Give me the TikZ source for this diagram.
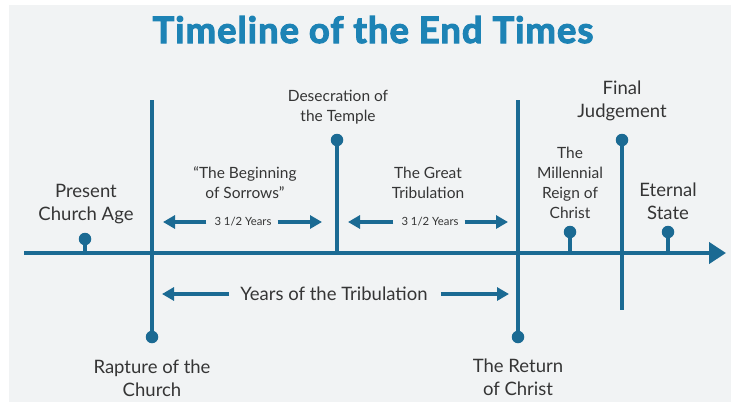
\documentclass[tikz,border=0pt]{standalone}
\usepackage{fontspec}
\setmainfont{Lato}
\newfontfamily\titlefont{Lato}[BoldFeatures={FakeBold=3}, LetterSpace=3]
\usetikzlibrary{arrows.meta}
\definecolor{bg}{HTML}{F1F3F4}
\definecolor{lineblue}{HTML}{1B6A93}
\definecolor{titleblue}{HTML}{1D83B5}
\definecolor{txt}{HTML}{353535}
\begin{document}
\begin{tikzpicture}[x=1pt,y=-1pt,
  big/.style={font=\fontsize{18.5}{23}\selectfont, text=txt, align=center, inner sep=0pt},
  mid/.style={font=\fontsize{15.5}{20}\selectfont, text=txt, align=center, inner sep=0pt},
  small/.style={font=\fontsize{11.3}{13}\selectfont, text=txt, align=center, inner sep=0pt},
  dot/.style={circle, fill=lineblue, minimum size=12.5pt, inner sep=0pt},
  bar/.style={line width=4pt, draw=lineblue},
  arr/.style={line width=4pt, draw=lineblue, -{Triangle[length=12pt,width=13pt]}},
  axisarr/.style={line width=4pt, draw=lineblue, -{Triangle[length=17pt,width=21pt]}}
]
\useasboundingbox (0,0) rectangle (735,405);
\fill[white] (0,0) rectangle (735,405);
\fill[bg] (9,5) rectangle (731,402);

% title
\node[font=\fontsize{36.3}{40}\titlefont\bfseries, text=titleblue, inner sep=0pt, anchor=base] (title) at (373,43) {Timeline of the End Times};

% axis
\coordinate (axL) at (24,253);
\coordinate (axR) at (726,253);
\draw[axisarr] (axL) -- (axR);

% dots
\node[dot] (dPresent) at (85,239) {};
\node[dot] (dRapture) at (152,337) {};
\node[dot] (dDesec) at (337,140) {};
\node[dot] (dReturn) at (518,337) {};
\node[dot] (dMill) at (570,232) {};
\node[dot] (dFinal) at (622,140) {};
\node[dot] (dEternal) at (668,232) {};

% line ends
\coordinate (v1top) at (152,100);
\coordinate (v3top) at (518,100);
\coordinate (v2bot) at (337,253);
\coordinate (v4bot) at (622,310);
\coordinate (sPresent) at (85,253);
\coordinate (sMill) at (570,253);
\coordinate (sEternal) at (668,253);

\draw[bar] (v1top) -- (dRapture);
\draw[bar] (v3top) -- (dReturn);
\draw[bar] (dDesec) -- (v2bot);
\draw[bar] (dFinal) -- (v4bot);
\draw[bar] (dPresent) -- (sPresent);
\draw[bar] (dMill) -- (sMill);
\draw[bar] (dEternal) -- (sEternal);

% labels
\node[big] (present) at (86,204) {Present\\Church Age};
\node[big] (rapture) at (152,378) {Rapture of the\\Church};
\node[big] (return) at (518,377) {The Return\\of Christ};
\node[mid] (desec) at (338,107) {Desecration of\\the Temple};
\node[big] (final) at (622,101) {Final\\Judgement};
\node[mid] (begin) at (245,183) {``The Beginning\\of Sorrows''};
\node[mid] (great) at (428,183) {The Great\\Tribulation};
\node[mid] (mill) at (570,183) {The\\Millennial\\Reign of\\Christ};
\node[big] (eternal) at (668,201) {Eternal\\State};

% 3 1/2 years arrows
\node[small] (h1) at (243,222) {3 1/2 Years};
\node[small] (h2) at (430,222) {3 1/2 Years};
\coordinate (h1l) at (163,222);
\coordinate (h1r) at (322,222);
\coordinate (h2l) at (348,222);
\coordinate (h2r) at (508,222);
\draw[arr, shorten <=8pt] (h1.west) -- (h1l);
\draw[arr, shorten <=6pt] (h1.east) -- (h1r);
\draw[arr, shorten <=8pt] (h2.west) -- (h2l);
\draw[arr, shorten <=6pt] (h2.east) -- (h2r);

% years of the tribulation
\node[big] (years) at (334,294) {Years of the Tribulation};
\coordinate (yl) at (162,294);
\coordinate (yr) at (509,294);
\draw[arr, shorten <=11pt] (years.west) -- (yl);
\draw[arr, shorten <=13pt] (years.east) -- (yr);
\end{tikzpicture}
\end{document}
